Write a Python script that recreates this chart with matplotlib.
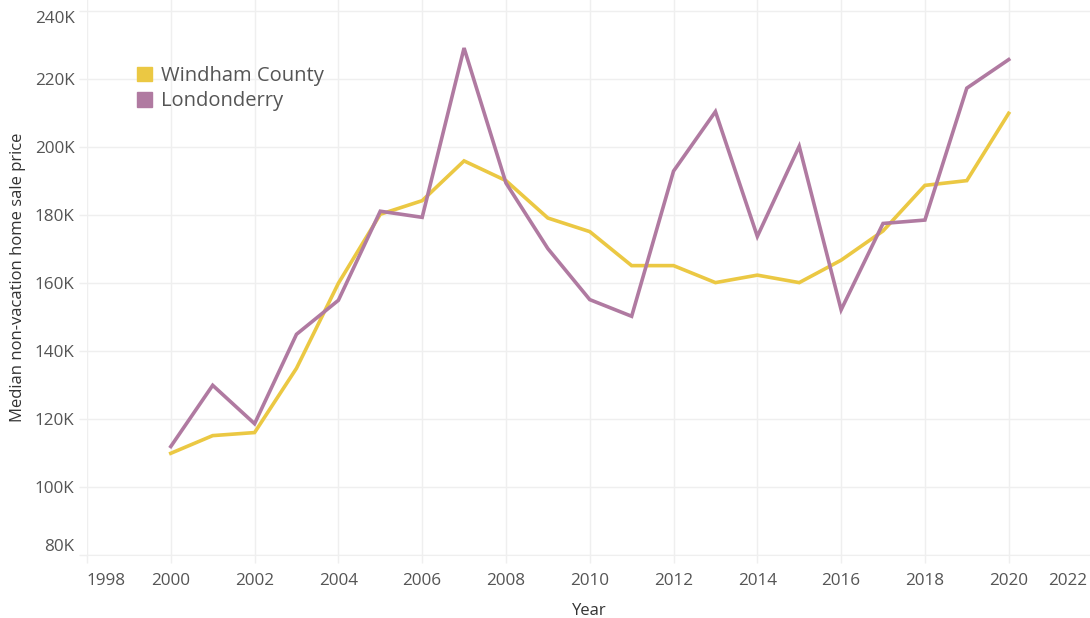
import matplotlib
matplotlib.use("Agg")
from matplotlib import pyplot as plt
from matplotlib.patches import Patch
from matplotlib.ticker import FuncFormatter
from matplotlib.transforms import ScaledTranslation

plt.rcParams["font.family"] = ["Open Sans", "DejaVu Sans"]

years = list(range(2000, 2021))
windham = [110.0, 115.2, 116.1, 135.0, 160.0, 180.3, 184.3, 196.0, 190.2, 179.2, 175.2,
           165.2, 165.2, 160.2, 162.4, 160.2, 166.8, 175.4, 188.8, 190.2, 210.0]
londonderry = [112.0, 130.0, 118.7, 145.0, 155.0, 181.2, 179.4, 229.2, 189.5, 170.2, 155.2,
               150.3, 193.0, 210.5, 173.8, 200.3, 152.2, 177.6, 178.6, 217.4, 225.8]

yellow = "#EBC843"
purple = "#B07AA1"
txt = "#555555"
grid_c = "#EFEFEF"

fig = plt.figure(figsize=(10.9, 6.18), dpi=100)
ax = fig.add_axes([87 / 1090, 1 - 555.3 / 618, (1092.5 - 87) / 1090, 555.3 / 618])

ax.plot(years, windham, color=yellow, lw=2.6, solid_joinstyle="miter", zorder=3)
ax.plot(years, londonderry, color=purple, lw=2.6, solid_joinstyle="miter", zorder=3)

ax.set_xlim(1998, 2022)
ax.set_ylim(80, 80 + 555.3 / 68 * 20)
ax.set_xticks(range(1998, 2023, 2))
ax.set_yticks(range(80, 241, 20))
ax.yaxis.set_major_formatter(FuncFormatter(lambda v, p: f"{int(v)}K"))

ax.grid(True, color=grid_c, lw=1)
ax.set_axisbelow(True)
for s in ["top", "right", "left"]:
    ax.spines[s].set_visible(False)
ax.spines["bottom"].set_color(grid_c)
ax.tick_params(axis="both", colors=txt, labelsize=12.3, length=6, width=1)
ax.tick_params(axis="x", color=grid_c, pad=7)
ax.tick_params(axis="y", color=grid_c, pad=3)

fig.canvas.draw()
xl = ax.get_xticklabels()
xl[0].set_ha("left")
xl[-1].set_ha("right")
xl[-1].set_transform(xl[-1].get_transform() + ScaledTranslation(-5 / 100, 0, fig.dpi_scale_trans))
yl = ax.get_yticklabels()
yl[0].set_va("bottom")
yl[-1].set_va("top")

ax.set_xlabel("Year", color="#333333", fontsize=12, labelpad=10)
ax.set_ylabel("Median non-vacation home sale price", color="#333333", fontsize=12, labelpad=6)

handles = [Patch(color=yellow), Patch(color=purple)]
fig.legend(handles, ["Windham County", "Londonderry"], loc="upper left",
           bbox_to_anchor=(119 / 1090, 1 - 48 / 618), frameon=False, fontsize=14.5,
           handlelength=0.75, handleheight=0.75, handletextpad=0.45, labelspacing=0.25,
           labelcolor=txt)

fig.savefig("out.png", dpi=100)
